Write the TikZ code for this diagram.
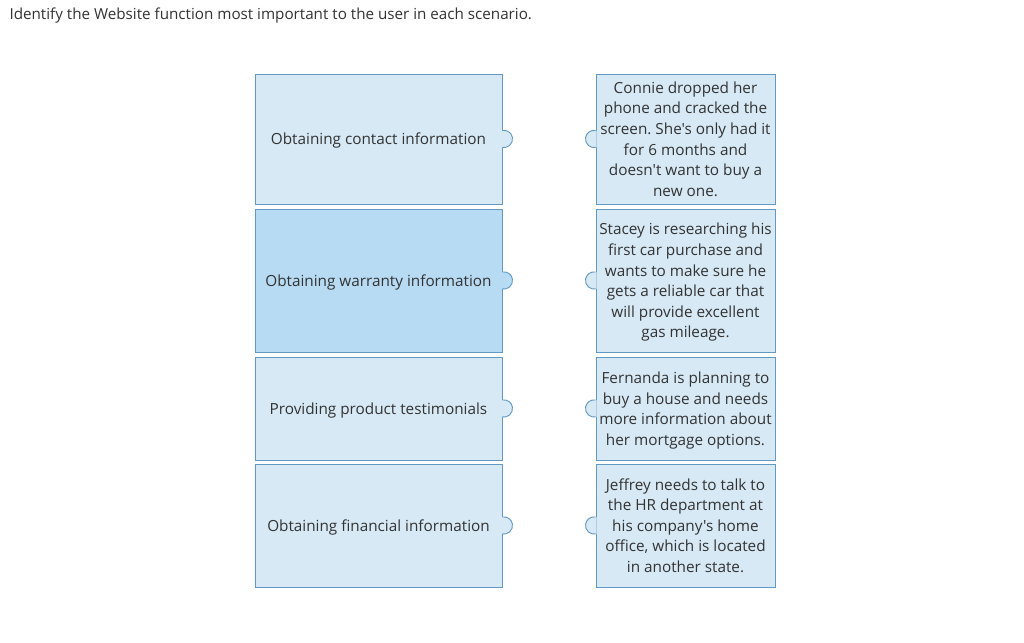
\documentclass[tikz,border=0pt]{standalone}
\usepackage{fontspec}
\setmainfont{Open Sans}[Ligatures=TeXOff]
\usepackage{xcolor}
\definecolor{myfill}{RGB}{214,233,245}
\definecolor{mypick}{RGB}{183,219,242}
\definecolor{myline}{RGB}{98,152,196}
\definecolor{mytext}{RGB}{51,51,51}
\frenchspacing

\begin{document}
\begin{tikzpicture}[x=1pt,y=1pt,
  every node/.style={text=mytext, font=\fontsize{15.3}{20.6}\selectfont},
  card/.style={rectangle, draw=myline, fill=myfill, line width=0.9pt, inner sep=0pt, align=center, text depth=0pt},
  leftcard/.style={card, minimum width=247, minimum height=#1},
  rightcard/.style={card, minimum width=179, minimum height=#1},
  tab/.style={draw=myline, line width=0.9pt}
]
\useasboundingbox (0,0) rectangle (1024,-642);

\node[anchor=west, font=\fontsize{15.2}{18}\selectfont] (title) at (6,-16) {Identify the Website function most important to the user in each scenario.};

% functions
\node[leftcard=130] (f1) at (378.5,-139) {Obtaining contact information};
\node[leftcard=143, fill=mypick] (f2) at (378.5,-280.5) {Obtaining warranty information};
\node[leftcard=103] (f3) at (378.5,-408.5) {Providing product testimonials};
\node[leftcard=123] (f4) at (378.5,-525.5) {Obtaining financial information};

% scenarios
\node[rightcard=130] (s1) at (685.5,-139) {Connie dropped her\\phone and cracked the\\screen. She's only had it\\for 6 months and\\doesn't want to buy a\\new one.};
\node[rightcard=143] (s2) at (685.5,-280.5) {Stacey is researching his\\first car purchase and\\wants to make sure he\\gets a reliable car that\\will provide excellent\\gas mileage.};
\node[rightcard=103] (s3) at (685.5,-408.5) {Fernanda is planning to\\buy a house and needs\\more information about\\her mortgage options.};
\node[rightcard=123] (s4) at (685.5,-525.5) {Jeffrey needs to talk to\\the HR department at\\his company's home\\office, which is located\\in another state.};

% tabs
\fill[myfill] ([xshift=-1,yshift=8.5]f1.east) -- ++(1,0) arc(100:-100:8.6) -- ++(-1,0) -- cycle;
\draw[tab] ([yshift=8.5]f1.east) arc(100:-100:8.6);
\fill[mypick] ([xshift=-1,yshift=8.5]f2.east) -- ++(1,0) arc(100:-100:8.6) -- ++(-1,0) -- cycle;
\draw[tab] ([yshift=8.5]f2.east) arc(100:-100:8.6);
\fill[myfill] ([xshift=-1,yshift=8.5]f3.east) -- ++(1,0) arc(100:-100:8.6) -- ++(-1,0) -- cycle;
\draw[tab] ([yshift=8.5]f3.east) arc(100:-100:8.6);
\fill[myfill] ([xshift=-1,yshift=8.5]f4.east) -- ++(1,0) arc(100:-100:8.6) -- ++(-1,0) -- cycle;
\draw[tab] ([yshift=8.5]f4.east) arc(100:-100:8.6);

\fill[myfill] ([xshift=1,yshift=8.5]s1.west) -- ++(-1,0) arc(80:280:8.6) -- ++(1,0) -- cycle;
\draw[tab] ([yshift=8.5]s1.west) arc(80:280:8.6);
\fill[myfill] ([xshift=1,yshift=8.5]s2.west) -- ++(-1,0) arc(80:280:8.6) -- ++(1,0) -- cycle;
\draw[tab] ([yshift=8.5]s2.west) arc(80:280:8.6);
\fill[myfill] ([xshift=1,yshift=8.5]s3.west) -- ++(-1,0) arc(80:280:8.6) -- ++(1,0) -- cycle;
\draw[tab] ([yshift=8.5]s3.west) arc(80:280:8.6);
\fill[myfill] ([xshift=1,yshift=8.5]s4.west) -- ++(-1,0) arc(80:280:8.6) -- ++(1,0) -- cycle;
\draw[tab] ([yshift=8.5]s4.west) arc(80:280:8.6);

\end{tikzpicture}
\end{document}
